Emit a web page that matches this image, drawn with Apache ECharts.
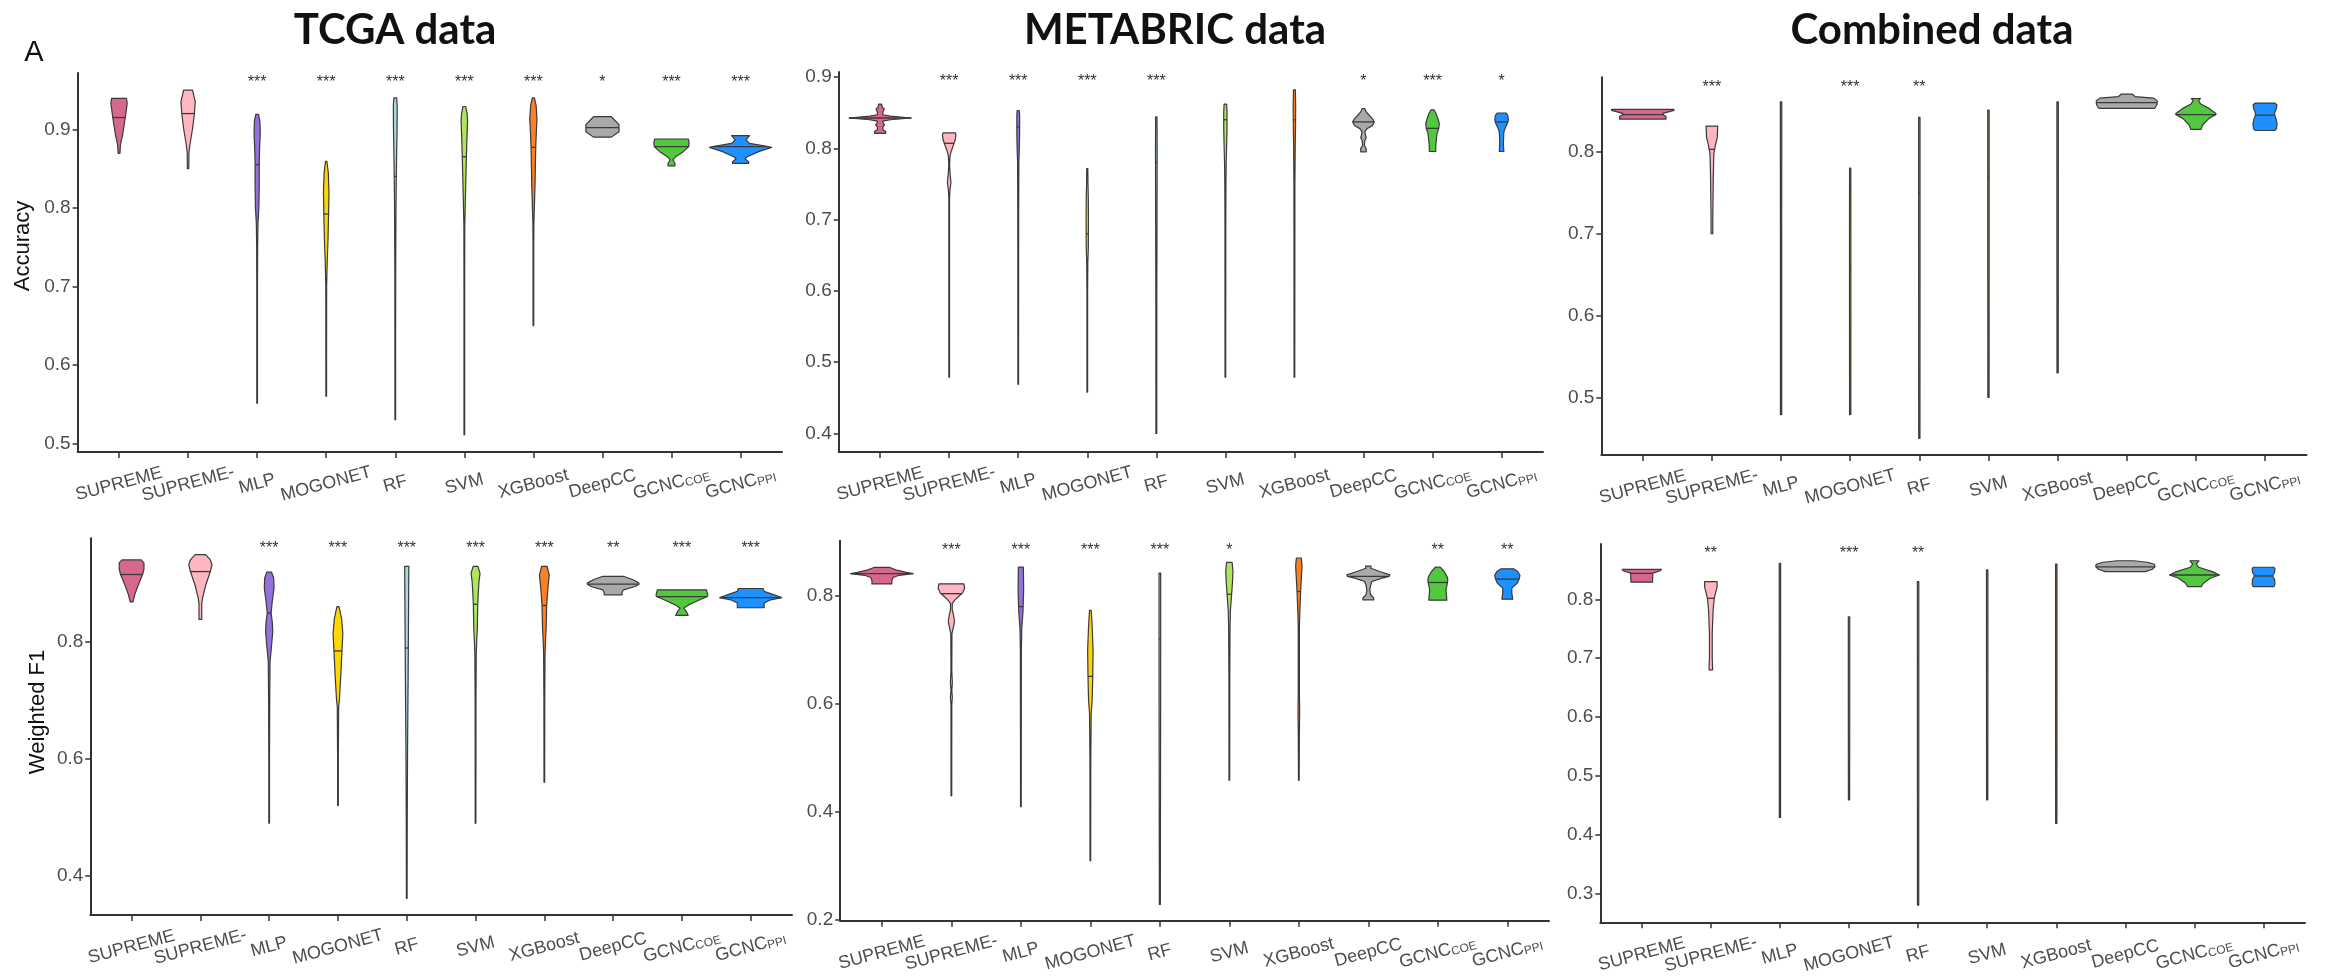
<!DOCTYPE html>
<html><head><meta charset="utf-8">
<script src="https://cdn.jsdelivr.net/npm/echarts@6/dist/echarts.min.js"></script>
<style>html,body{margin:0;padding:0;background:#fff}#c{width:2328px;height:978px}</style>
</head><body><div id="c"></div>
<script>
const categories = ['SUPREME','SUPREME-','MLP','MOGONET','RF','SVM','XGBoost','DeepCC','GCNC_COE','GCNC_PPI'];
const colors = ['#d6688f','#ffb6c1','#9370db','#ffd700','#add8e6','#aee55a','#ff7f24','#a9a9a9','#52c83e','#1e90ff'];
const catIndex = [0,1,2,3,4,5,6,7,8,9];

// ---- TCGA Accuracy ----
const tcgaAccTicks = [0.5,0.6,0.7,0.8,0.9];
const tcgaAccMedians = [0.915,0.92,0.855,0.792,0.84,0.865,0.877,0.902,0.878,0.878];
const tcgaAccStars = ['','','***','***','***','***','***','*','***','***'];
const tcgaAccProfiles = [
 [[0.9395,0.108],[0.933,0.118],[0.915,0.091],[0.893,0.052],[0.880,0.02],[0.8694,0.013]],
 [[0.950,0.065],[0.935,0.104],[0.9195,0.091],[0.901,0.065],[0.880,0.026],[0.870,0.012],[0.850,0.01]],
 [[0.919,0.02],[0.91,0.04],[0.895,0.045],[0.875,0.035],[0.855,0.03],[0.83,0.03],[0.80,0.025],[0.78,0.012],[0.75,0.007],[0.70,0.005],[0.551,0.005]],
 [[0.859,0.01],[0.845,0.03],[0.82,0.04],[0.79,0.034],[0.76,0.026],[0.73,0.014],[0.70,0.006],[0.60,0.005],[0.56,0.005]],
 [[0.94,0.02],[0.93,0.028],[0.90,0.026],[0.87,0.02],[0.84,0.015],[0.80,0.01],[0.72,0.006],[0.60,0.005],[0.53,0.005]],
 [[0.929,0.02],[0.92,0.04],[0.91,0.047],[0.89,0.038],[0.865,0.03],[0.83,0.02],[0.80,0.012],[0.775,0.006],[0.70,0.005],[0.511,0.005]],
 [[0.94,0.015],[0.93,0.04],[0.914,0.052],[0.895,0.042],[0.877,0.034],[0.85,0.028],[0.83,0.024],[0.80,0.014],[0.78,0.007],[0.75,0.005],[0.65,0.005]],
 [[0.916,0.13],[0.906,0.24],[0.897,0.24],[0.89,0.13]],
 [[0.8876,0.245],[0.8834,0.255],[0.878,0.25],[0.8715,0.17],[0.8651,0.06],[0.861,0.02],[0.8567,0.05],[0.8535,0.05]],
 [[0.8919,0.13],[0.8864,0.078],[0.8821,0.13],[0.8787,0.36],[0.877,0.45],[0.8715,0.26],[0.8651,0.098],[0.8622,0.065],[0.8588,0.117],[0.8567,0.117]]
];

// ---- METABRIC Accuracy ----
const metAccTicks = [0.4,0.5,0.6,0.7,0.8,0.9];
const metAccMedians = [0.8425,0.807,0.83,0.68,0.78,0.84,0.84,0.837,0.828,0.837];
const metAccStars = ['','***','***','***','***','','','*','***','*'];
const metAccProfiles = [
 [[0.862,0.02],[0.858,0.03],[0.855,0.06],[0.851,0.04],[0.847,0.04],[0.845,0.15],[0.8425,0.45],[0.840,0.15],[0.838,0.04],[0.836,0.04],[0.833,0.065],[0.830,0.04],[0.826,0.04],[0.824,0.08],[0.821,0.08]],
 [[0.8215,0.09],[0.818,0.098],[0.812,0.088],[0.807,0.07],[0.80,0.045],[0.795,0.026],[0.788,0.01],[0.775,0.006],[0.762,0.015],[0.752,0.026],[0.742,0.012],[0.73,0.005],[0.479,0.005]],
 [[0.853,0.016],[0.845,0.02],[0.82,0.02],[0.80,0.016],[0.78,0.009],[0.70,0.006],[0.469,0.005]],
 [[0.7715,0.008],[0.75,0.01],[0.73,0.015],[0.70,0.017],[0.66,0.015],[0.64,0.008],[0.60,0.005],[0.458,0.005]],
 [[0.844,0.01],[0.80,0.012],[0.70,0.01],[0.60,0.007],[0.40,0.006]],
 [[0.862,0.018],[0.85,0.024],[0.83,0.024],[0.81,0.02],[0.78,0.012],[0.75,0.008],[0.70,0.006],[0.479,0.005]],
 [[0.882,0.014],[0.86,0.018],[0.83,0.016],[0.80,0.011],[0.75,0.007],[0.479,0.005]],
 [[0.8556,0.02],[0.851,0.04],[0.846,0.085],[0.8415,0.13],[0.837,0.156],[0.832,0.13],[0.8276,0.052],[0.823,0.02],[0.8183,0.03],[0.815,0.04],[0.811,0.02],[0.804,0.013],[0.7995,0.04],[0.795,0.04]],
 [[0.854,0.02],[0.8486,0.052],[0.8393,0.085],[0.8346,0.098],[0.8276,0.09],[0.8206,0.065],[0.8088,0.052],[0.8018,0.046],[0.7955,0.046]],
 [[0.8495,0.06],[0.846,0.09],[0.84,0.098],[0.835,0.085],[0.830,0.06],[0.823,0.033],[0.8065,0.026],[0.800,0.03],[0.7955,0.033]]
];

// ---- Combined Accuracy ----
const combAccTicks = [0.5,0.6,0.7,0.8];
const combAccMedians = [0.8455,0.803,0.75,0.66,0.75,0.77,0.78,0.860,0.8455,0.8448];
const combAccStars = ['','***','','***','**','','','','',''];
const combAccProfiles = [
 [[0.8518,0.45],[0.8505,0.45],[0.8469,0.29],[0.845,0.30],[0.843,0.336],[0.840,0.336]],
 [[0.8314,0.084],[0.818,0.078],[0.806,0.045],[0.803,0.04],[0.798,0.028],[0.77,0.02],[0.725,0.013],[0.70,0.012]],
 [[0.861,0.01],[0.80,0.01],[0.70,0.009],[0.60,0.009],[0.479,0.009]],
 [[0.78,0.009],[0.70,0.01],[0.60,0.01],[0.479,0.009]],
 [[0.842,0.01],[0.70,0.01],[0.45,0.009]],
 [[0.851,0.01],[0.70,0.01],[0.50,0.009]],
 [[0.861,0.01],[0.70,0.01],[0.53,0.009]],
 [[0.8705,0.078],[0.8675,0.12],[0.8655,0.39],[0.8625,0.44],[0.8585,0.44],[0.855,0.42],[0.853,0.40]],
 [[0.865,0.065],[0.8624,0.04],[0.8583,0.07],[0.853,0.19],[0.8469,0.29],[0.8455,0.29],[0.8408,0.19],[0.8327,0.097],[0.8274,0.075]],
 [[0.8595,0.14],[0.8575,0.172],[0.853,0.165],[0.848,0.14],[0.8445,0.14],[0.840,0.16],[0.834,0.174],[0.828,0.165],[0.826,0.14]]
];

// ---- TCGA Weighted F1 ----
const tcgaF1Ticks = [0.4,0.6,0.8];
const tcgaF1Medians = [0.916,0.921,0.85,0.785,0.79,0.865,0.863,0.8994,0.878,0.8765];
const tcgaF1Stars = ['','','***','***','***','***','***','**','***','***'];
const tcgaF1Profiles = [
 [[0.941,0.14],[0.936,0.18],[0.925,0.18],[0.916,0.16],[0.898,0.097],[0.881,0.045],[0.869,0.02]],
 [[0.950,0.075],[0.942,0.14],[0.933,0.169],[0.921,0.145],[0.898,0.078],[0.876,0.032],[0.866,0.02],[0.839,0.02]],
 [[0.920,0.035],[0.910,0.065],[0.893,0.071],[0.870,0.045],[0.8497,0.028],[0.835,0.045],[0.818,0.052],[0.79,0.032],[0.767,0.013],[0.70,0.008],[0.60,0.005],[0.49,0.005]],
 [[0.861,0.015],[0.841,0.052],[0.815,0.071],[0.785,0.058],[0.738,0.039],[0.70,0.02],[0.69,0.01],[0.60,0.005],[0.52,0.005]],
 [[0.93,0.03],[0.85,0.026],[0.74,0.02],[0.62,0.012],[0.50,0.007],[0.361,0.005]],
 [[0.93,0.035],[0.918,0.065],[0.904,0.05],[0.885,0.04],[0.865,0.032],[0.824,0.026],[0.80,0.016],[0.778,0.01],[0.70,0.006],[0.49,0.005]],
 [[0.93,0.04],[0.915,0.071],[0.893,0.052],[0.863,0.034],[0.824,0.026],[0.80,0.016],[0.778,0.01],[0.70,0.006],[0.56,0.005]],
 [[0.9126,0.16],[0.907,0.29],[0.9012,0.376],[0.8994,0.376],[0.8955,0.32],[0.8897,0.15],[0.885,0.13],[0.8811,0.13]],
 [[0.8897,0.357],[0.8811,0.376],[0.8782,0.37],[0.8726,0.26],[0.864,0.097],[0.8583,0.026],[0.8525,0.065],[0.846,0.09]],
 [[0.892,0.18],[0.887,0.195],[0.882,0.32],[0.8765,0.45],[0.8726,0.29],[0.867,0.195],[0.859,0.195]]
];

// ---- METABRIC Weighted F1 ----
const metF1Ticks = [0.2,0.4,0.6,0.8];
const metF1Medians = [0.841,0.804,0.78,0.651,0.72,0.803,0.808,0.836,0.8247,0.831];
const metF1Stars = ['','***','***','***','***','*','','','**','**'];
const metF1Profiles = [
 [[0.8525,0.115],[0.848,0.2],[0.8435,0.35],[0.841,0.45],[0.838,0.25],[0.834,0.16],[0.828,0.143],[0.822,0.143]],
 [[0.8222,0.18],[0.8142,0.19],[0.805,0.16],[0.802,0.13],[0.7926,0.052],[0.786,0.013],[0.775,0.012],[0.765,0.03],[0.7525,0.045],[0.74,0.025],[0.73,0.008],[0.66,0.006],[0.64,0.014],[0.625,0.006],[0.612,0.014],[0.60,0.006],[0.43,0.005]],
 [[0.853,0.036],[0.81,0.04],[0.77,0.03],[0.74,0.013],[0.70,0.007],[0.60,0.006],[0.41,0.005]],
 [[0.773,0.012],[0.743,0.026],[0.70,0.039],[0.65,0.034],[0.607,0.026],[0.583,0.012],[0.50,0.006],[0.31,0.005]],
 [[0.842,0.012],[0.70,0.012],[0.50,0.01],[0.229,0.007]],
 [[0.862,0.04],[0.845,0.052],[0.825,0.045],[0.803,0.033],[0.774,0.016],[0.743,0.01],[0.65,0.006],[0.459,0.005]],
 [[0.870,0.035],[0.855,0.046],[0.83,0.035],[0.808,0.026],[0.77,0.014],[0.74,0.008],[0.62,0.008],[0.59,0.012],[0.55,0.008],[0.50,0.006],[0.459,0.005]],
 [[0.855,0.039],[0.851,0.035],[0.8451,0.163],[0.8389,0.31],[0.836,0.30],[0.8327,0.195],[0.8265,0.052],[0.8204,0.035],[0.811,0.02],[0.802,0.033],[0.796,0.078],[0.7926,0.078]],
 [[0.853,0.035],[0.845,0.091],[0.835,0.135],[0.8296,0.143],[0.8247,0.14],[0.811,0.117],[0.80,0.125],[0.792,0.13]],
 [[0.850,0.09],[0.845,0.15],[0.838,0.182],[0.831,0.17],[0.8235,0.143],[0.8142,0.065],[0.805,0.065],[0.7938,0.078]]
];

// ---- Combined Weighted F1 ----
const combF1Ticks = [0.3,0.4,0.5,0.6,0.7,0.8];
const combF1Medians = [0.844,0.8017,0.75,0.62,0.70,0.77,0.78,0.855,0.8413,0.8396];
const combF1Stars = ['','**','','***','**','','','','',''];
const combF1Profiles = [
 [[0.851,0.284],[0.8485,0.27],[0.8445,0.16],[0.829,0.156]],
 [[0.83,0.09],[0.821,0.09],[0.8045,0.055],[0.8017,0.05],[0.782,0.033],[0.742,0.02],[0.70,0.02],[0.68,0.026]],
 [[0.861,0.01],[0.75,0.01],[0.60,0.009],[0.429,0.009]],
 [[0.770,0.01],[0.65,0.01],[0.459,0.009]],
 [[0.83,0.01],[0.60,0.01],[0.28,0.009]],
 [[0.85,0.01],[0.70,0.01],[0.459,0.009]],
 [[0.86,0.01],[0.65,0.01],[0.419,0.009]],
 [[0.8655,0.12],[0.863,0.32],[0.8595,0.42],[0.8555,0.43],[0.851,0.39],[0.847,0.29]],
 [[0.8655,0.065],[0.860,0.026],[0.8544,0.06],[0.847,0.26],[0.8413,0.36],[0.8357,0.228],[0.8272,0.13],[0.8214,0.098]],
 [[0.8545,0.15],[0.852,0.165],[0.846,0.16],[0.8396,0.13],[0.834,0.16],[0.826,0.165],[0.8214,0.15]]
];

const panels = [
 {grid:{left:77.6, top:73, width:704.4, height:379}, yMin:0.4889, yMax:0.9717, ticks:tcgaAccTicks, profiles:tcgaAccProfiles, medians:tcgaAccMedians, stars:tcgaAccStars},
 {grid:{left:838.7, top:72, width:704.3, height:380}, yMin:0.374, yMax:0.907, ticks:metAccTicks, profiles:metAccProfiles, medians:metAccMedians, stars:metAccStars},
 {grid:{left:1601.3, top:77.3, width:705.2, height:377.7}, yMin:0.4296, yMax:0.891, ticks:combAccTicks, profiles:combAccProfiles, medians:combAccMedians, stars:combAccStars},
 {grid:{left:90.3, top:538.3, width:701.7, height:376.7}, yMin:0.3326, yMax:0.978, ticks:tcgaF1Ticks, profiles:tcgaF1Profiles, medians:tcgaF1Medians, stars:tcgaF1Stars},
 {grid:{left:840.2, top:540.7, width:708.8, height:380}, yMin:0.199, yMax:0.902, ticks:metF1Ticks, profiles:metF1Profiles, medians:metF1Medians, stars:metF1Stars},
 {grid:{left:1600.3, top:544, width:704.7, height:378.3}, yMin:0.2507, yMax:0.894, ticks:combF1Ticks, profiles:combF1Profiles, medians:combF1Medians, stars:combF1Stars}
];

const FONT = 'Liberation Sans';
const AXC = '#333333';
const LBL = '#4d4d4d';

function catLabel(v){
  const s = categories[v];
  if (s === 'GCNC_COE') return '{m|GCNC}{s|COE}';
  if (s === 'GCNC_PPI') return '{m|GCNC}{s|PPI}';
  return '{m|' + s + '}';
}
function widthAt(prof, v){
  for (let k = 0; k < prof.length - 1; k++){
    const a = prof[k], b = prof[k+1];
    if (v <= a[0] && v >= b[0]){
      const t = (a[0] - v) / (a[0] - b[0] || 1);
      return a[1] + (b[1] - a[1]) * t;
    }
  }
  return prof[prof.length-1][1];
}

const option = {animation:false, grid:[], xAxis:[], yAxis:[], series:[], graphic:[]};

panels.forEach((p, gi) => {
  option.grid.push(Object.assign({containLabel:false}, p.grid));
  option.xAxis.push({
    type:'value', gridIndex:gi, min:-0.6, max:9.6, position:'bottom',
    splitLine:{show:false},
    axisLine:{show:true, onZero:false, lineStyle:{color:AXC, width:2}},
    axisTick:{show:true, customValues:catIndex, length:6, lineStyle:{color:AXC, width:1.5}},
    axisLabel:{show:true, customValues:catIndex, formatter:(v)=>catLabel(Math.round(v)),
      rotate:15, align:'center', verticalAlign:'middle', margin:32,
      rich:{m:{fontSize:18, color:LBL, fontFamily:FONT}, s:{fontSize:12, color:LBL, fontFamily:FONT, verticalAlign:'bottom', padding:[6,0,0,0]}}}
  });
  option.xAxis.push({
    type:'value', gridIndex:gi, min:-0.6, max:9.6, position:'top',
    splitLine:{show:false}, axisLine:{show:false}, axisTick:{show:false},
    axisLabel:{show:true, inside:true, customValues:catIndex, formatter:(v)=>p.stars[Math.round(v)],
      margin:10, verticalAlign:'middle', color:'#333', fontSize:16, fontFamily:FONT}
  });
  option.yAxis.push({
    type:'value', gridIndex:gi, min:p.yMin, max:p.yMax,
    splitLine:{show:false},
    axisLine:{show:true, onZero:false, lineStyle:{color:AXC, width:2}},
    axisTick:{show:true, customValues:p.ticks, length:5, lineStyle:{color:AXC, width:1.5}},
    axisLabel:{show:true, customValues:p.ticks, formatter:(v)=>v.toFixed(1), margin:7, color:LBL, fontSize:19, fontFamily:FONT}
  });
  option.series.push({
    type:'custom', xAxisIndex:gi*2, yAxisIndex:gi, clip:false,
    data:p.medians.map((m,i)=>[i,m]),
    encode:{x:0, y:1},
    renderItem:function(params, api){
      const i = params.dataIndex;
      const prof = p.profiles[i];
      const left = [], right = [];
      prof.forEach(([v,w]) => { left.push(api.coord([i - w, v])); right.push(api.coord([i + w, v])); });
      const pts = left.concat(right.reverse());
      const med = p.medians[i];
      const mw = widthAt(prof, med);
      const a = api.coord([i - mw, med]), b = api.coord([i + mw, med]);
      return {type:'group', children:[
        {type:'polygon', shape:{points:pts}, style:{fill:colors[i], stroke:'#3a3a3a', lineWidth:1.2, lineJoin:'round'}},
        {type:'line', shape:{x1:a[0], y1:a[1], x2:b[0], y2:b[1]}, style:{stroke:'#3a3a3a', lineWidth:1.3}}
      ]};
    }
  });
});

const titleStyle = {fontSize:42, fontWeight:'bold', fontFamily:'Lato', fill:'#111', textAlign:'center', textVerticalAlign:'middle'};
option.graphic = [
  {type:'text', x:395, y:30, style:Object.assign({text:'TCGA data'}, titleStyle)},
  {type:'text', x:1175, y:30, style:Object.assign({text:'METABRIC data'}, titleStyle)},
  {type:'text', x:1932, y:30, style:Object.assign({text:'Combined data'}, titleStyle)},
  {type:'text', x:34, y:53, style:{text:'A', fontSize:29, fontFamily:FONT, fill:'#111', textAlign:'center', textVerticalAlign:'middle'}},
  {type:'text', x:23, y:246, rotation:Math.PI/2, style:{text:'Accuracy', fontSize:22, fontFamily:FONT, fill:'#111', textAlign:'center', textVerticalAlign:'middle'}},
  {type:'text', x:38, y:712, rotation:Math.PI/2, style:{text:'Weighted F1', fontSize:22, fontFamily:FONT, fill:'#111', textAlign:'center', textVerticalAlign:'middle'}}
];

const chart = echarts.init(document.getElementById('c'), null, {renderer:'canvas'});
chart.setOption(option);
</script>
</body></html>
